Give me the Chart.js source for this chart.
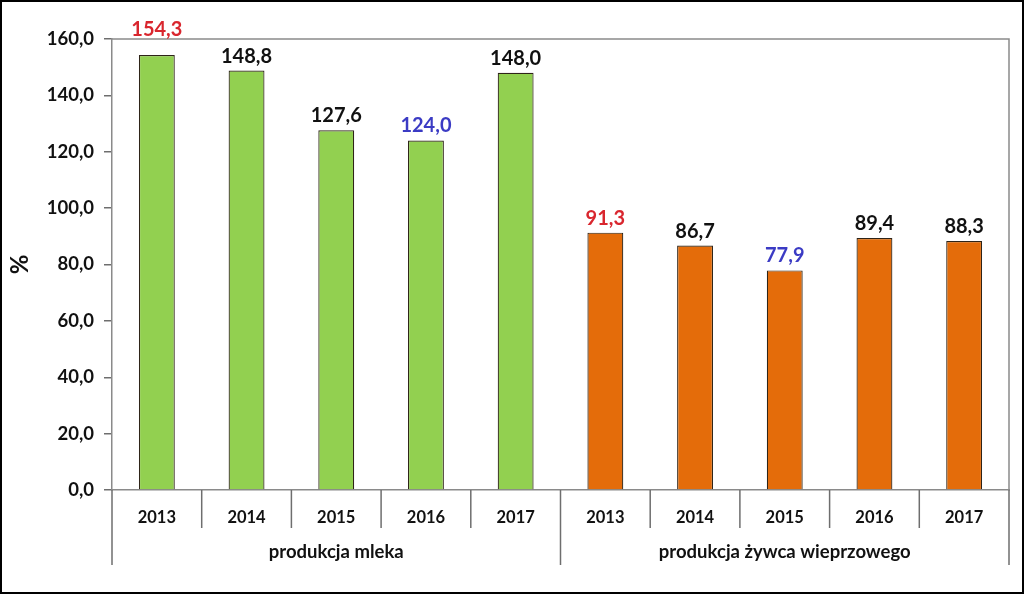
<!DOCTYPE html>
<html>
<head>
<meta charset="utf-8">
<script src="https://cdn.jsdelivr.net/npm/chart.js@4.4.0/dist/chart.umd.min.js"></script>
<style>
  html, body { margin: 0; padding: 0; background: #fff; }
  #wrap { width: 1024px; height: 594px; position: relative; }
</style>
</head>
<body>
<div id="wrap"><canvas id="wykres"></canvas></div>
<script>
// dane
const lata = ['2013', '2014', '2015', '2016', '2017', '2013', '2014', '2015', '2016', '2017'];
const grupy = ['produkcja mleka', 'produkcja żywca wieprzowego'];
const mleko = [154.3, 148.8, 127.6, 124.0, 148.0];
const zywiec = [91.3, 86.7, 77.9, 89.4, 88.3];
const ticksY = [0, 20, 40, 60, 80, 100, 120, 140, 160];

const wartosci = [...mleko, ...zywiec];
const kolory = [...mleko.map(() => '#92D050'), ...zywiec.map(() => '#E46C0A')];

const fmt = (v) => v.toFixed(1).replace('.', ',');
const FONT = 'Lato, "Open Sans", sans-serif';

// kolor etykiety: max w grupie czerwony, min niebieski
const kolorEtykiety = (seria, v) => {
    if (v === Math.max(...seria)) return '#D9262E';
    if (v === Math.min(...seria)) return '#3B3BC4';
    return '#111';
};
const koloryEtykiet = [...mleko.map(v => kolorEtykiety(mleko, v)), ...zywiec.map(v => kolorEtykiety(zywiec, v))];

const dodatki = {
    id: 'dodatki',
    afterDatasetsDraw(chart) {
        const { ctx, chartArea: ca, scales: { x } } = chart;
        const meta = chart.getDatasetMeta(0);
        ctx.save();

        // ramka obszaru wykresu (gora i prawo)
        ctx.strokeStyle = '#8a8a8a';
        ctx.lineWidth = 1.5;
        ctx.beginPath();
        ctx.moveTo(ca.left, ca.top);
        ctx.lineTo(ca.right, ca.top);
        ctx.lineTo(ca.right, ca.bottom);
        ctx.stroke();

        // linie podzialu kategorii
        const szer = x.getPixelForValue(1) - x.getPixelForValue(0);
        ctx.strokeStyle = '#6e6e6e';
        for (let i = 0; i <= lata.length; i++) {
            const px = x.getPixelForValue(i) - szer / 2;
            const dlugie = (i % mleko.length === 0);
            ctx.beginPath();
            ctx.moveTo(px, ca.bottom);
            ctx.lineTo(px, ca.bottom + (dlugie ? 75 : 38));
            ctx.stroke();
        }

        // nazwy grup
        ctx.fillStyle = '#111';
        ctx.font = 'bold 18.5px ' + FONT;
        ctx.textAlign = 'center';
        ctx.textBaseline = 'middle';
        grupy.forEach((g, gi) => {
            const a = x.getPixelForValue(gi * mleko.length);
            const b = x.getPixelForValue(gi * mleko.length + mleko.length - 1);
            ctx.fillText(g, (a + b) / 2, ca.bottom + 62);
        });

        // etykiety wartosci
        ctx.font = 'bold 20px ' + FONT;
        ctx.textBaseline = 'alphabetic';
        meta.data.forEach((bar, i) => {
            let yb = bar.y - 8;
            if (yb - 15 < ca.top) yb = ca.top - 3;
            ctx.fillStyle = koloryEtykiet[i];
            ctx.fillText(fmt(wartosci[i]), bar.x, yb);
        });

        // ramka calego obrazka
        ctx.strokeStyle = '#000';
        ctx.lineWidth = 2;
        ctx.strokeRect(1, 1, chart.width - 2, chart.height - 2);
        ctx.restore();
    }
};

new Chart(document.getElementById('wykres'), {
    type: 'bar',
    data: {
        labels: lata,
        datasets: [{
            data: wartosci,
            backgroundColor: kolory,
            borderColor: '#2e2418',
            borderWidth: 1.2,
            borderSkipped: 'bottom',
            barPercentage: 0.4,
            categoryPercentage: 1.0
        }]
    },
    options: {
        responsive: true,
        maintainAspectRatio: false,
        animation: false,
        layout: { padding: { left: 0, right: 15, top: 39, bottom: 0 } },
        plugins: { legend: { display: false }, tooltip: { enabled: false } },
        scales: {
            x: {
                grid: { display: false },
                border: { display: true, color: '#8a8a8a', width: 1.5 },
                ticks: { color: '#111', font: { family: FONT, size: 16.5, weight: 'bold' }, padding: 10, maxRotation: 0 },
                afterFit: (s) => { s.height = 104; }
            },
            y: {
                min: 0,
                max: 160,
                afterBuildTicks: (s) => { s.ticks = ticksY.map(v => ({ value: v })); },
                grid: { drawOnChartArea: false, color: '#6e6e6e', lineWidth: 1.5, tickLength: 8 },
                border: { display: true, color: '#8a8a8a', width: 1.5 },
                ticks: { color: '#111', font: { family: FONT, size: 18.5, weight: 'bold' }, padding: 10, callback: (v) => fmt(v) },
                title: { display: true, text: '%', color: '#111', font: { family: FONT, size: 24, weight: 'bold' }, padding: { top: 6 } },
                afterFit: (s) => { s.width = 112; }
            }
        }
    },
    plugins: [dodatki]
});
</script>
</body>
</html>
